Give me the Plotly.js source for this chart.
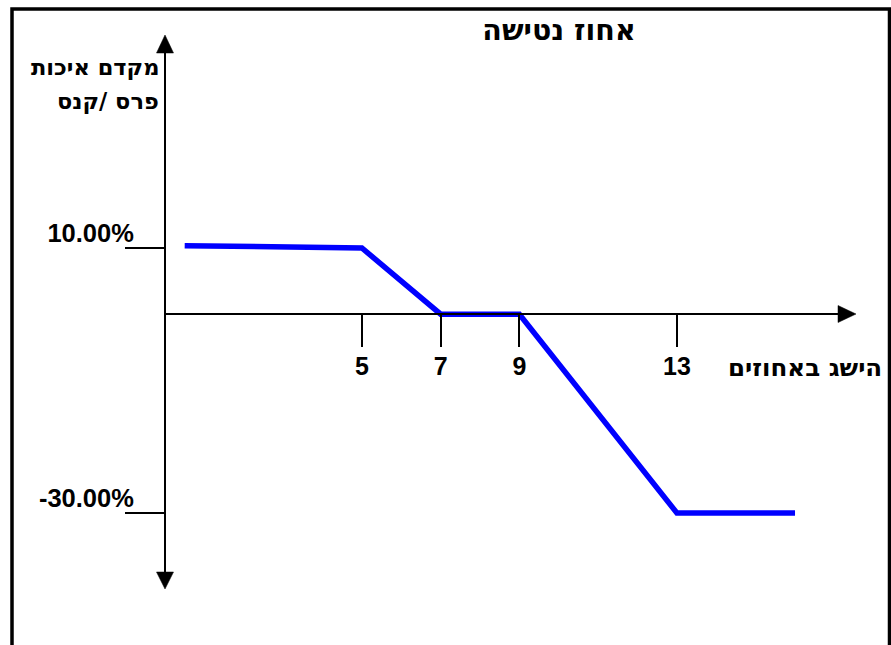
<!DOCTYPE html>
<html>
<head>
<meta charset="utf-8">
<script src="https://cdn.plot.ly/plotly-3.0.1.min.js"></script>
<style>html,body{margin:0;padding:0;background:#fff;}#chart{width:891px;height:645px;}</style>
</head>
<body>
<div id="chart"></div>
<script>
// ---- data ----
const xValues = [0.5, 5, 7, 9, 13, 16];
const yValues = [10.35, 10, 0, 0, -30, -30];
const xTickVals = [5, 7, 9, 13];
const xTickText = ['5', '7', '9', '13'];
const yTickVals = [10, -30];
const yTickText = ['10.00%', '-30.00%'];
const chartTitle = 'אחוז נטישה';
const yTitleLines = ['מקדם איכות', 'פרס /קנס'];
const xTitle = 'הישג באחוזים';

// ---- layout helpers (pixel -> paper) ----
const W = 891, H = 645;
const px = x => x / W;
const py = y => 1 - y / H;
const FONT = 'Arial, "Liberation Sans", sans-serif';
const HEB = '"DejaVu Sans", Arial, sans-serif';

const trace = {
  x: xValues, y: yValues, type: 'scatter', mode: 'lines',
  line: {color: '#0000FF', width: 5.5}, hoverinfo: 'skip', cliponaxis: false
};

const shapes = [
  // outer frame (left, top, right)
  {type: 'path', xref: 'paper', yref: 'paper',
   path: `M${px(12)},${py(700)} L${px(12)},${py(9)} L${px(889.5)},${py(9)} L${px(889.5)},${py(700)}`,
   line: {color: '#000', width: 3.5}},
  // arrow heads
  {type: 'path', xref: 'paper', yref: 'paper',
   path: `M${px(156.5)},${py(53)} L${px(165)},${py(35)} L${px(173.5)},${py(53)} Z`,
   fillcolor: '#000', line: {color: '#000', width: 0.5}},
  {type: 'path', xref: 'paper', yref: 'paper',
   path: `M${px(156.5)},${py(572)} L${px(165)},${py(589)} L${px(173.5)},${py(572)} Z`,
   fillcolor: '#000', line: {color: '#000', width: 0.5}},
  {type: 'path', xref: 'paper', yref: 'paper',
   path: `M${px(838)},${py(305.5)} L${px(856)},${py(314)} L${px(838)},${py(322.5)} Z`,
   fillcolor: '#000', line: {color: '#000', width: 0.5}}
];

const annotations = [
  {xref: 'paper', yref: 'paper', x: px(160.5), y: py(67), xanchor: 'right', yanchor: 'middle',
   text: yTitleLines[0], showarrow: false, font: {family: HEB, size: 22.5, color: '#000', weight: 'bold'}},
  {xref: 'paper', yref: 'paper', x: px(160.5), y: py(100.5), xanchor: 'right', yanchor: 'middle',
   text: yTitleLines[1], showarrow: false, font: {family: HEB, size: 22.5, color: '#000', weight: 'bold'}},
  {xref: 'paper', yref: 'paper', x: px(884), y: py(367), xanchor: 'right', yanchor: 'middle',
   text: xTitle, showarrow: false, font: {family: HEB, size: 24.5, color: '#000', weight: 'bold'}}
];

const layout = {
  width: W, height: H,
  margin: {l: 0, r: 0, t: 0, b: 0, pad: 0},
  paper_bgcolor: '#fff', plot_bgcolor: 'rgba(0,0,0,0)',
  showlegend: false,
  title: {text: chartTitle, x: px(559), xanchor: 'center', y: py(30), yanchor: 'middle',
          font: {family: HEB, size: 28.5, color: '#000', weight: 'bold'}},
  xaxis: {
    domain: [px(165), px(839)], range: [0, 17.117],
    anchor: 'free', position: py(314.25),
    showline: true, linecolor: '#000', linewidth: 2,
    showgrid: false, zeroline: false,
    ticks: 'outside', ticklen: 32, tickwidth: 2, tickcolor: '#000',
    tickmode: 'array', tickvals: xTickVals, ticktext: xTickText,
    tickfont: {family: FONT, size: 25, color: '#000', weight: 'bold'},
    ticklabelstandoff: -2,
    fixedrange: true
  },
  yaxis: {
    domain: [py(573), py(52)], range: [-39.06, 39.58],
    anchor: 'free', position: px(165),
    showline: true, linecolor: '#000', linewidth: 2,
    showgrid: false, zeroline: false,
    ticks: 'outside', ticklen: 39, tickwidth: 2, tickcolor: '#000',
    tickmode: 'array', tickvals: yTickVals, ticktext: yTickText,
    tickfont: {family: FONT, size: 25.5, color: '#000', weight: 'bold'},
    ticklabelshift: -15, ticklabelstandoff: -14,
    fixedrange: true
  },
  shapes: shapes,
  annotations: annotations
};

Plotly.newPlot('chart', [trace], layout, {staticPlot: true, displayModeBar: false});
</script>
</body>
</html>
